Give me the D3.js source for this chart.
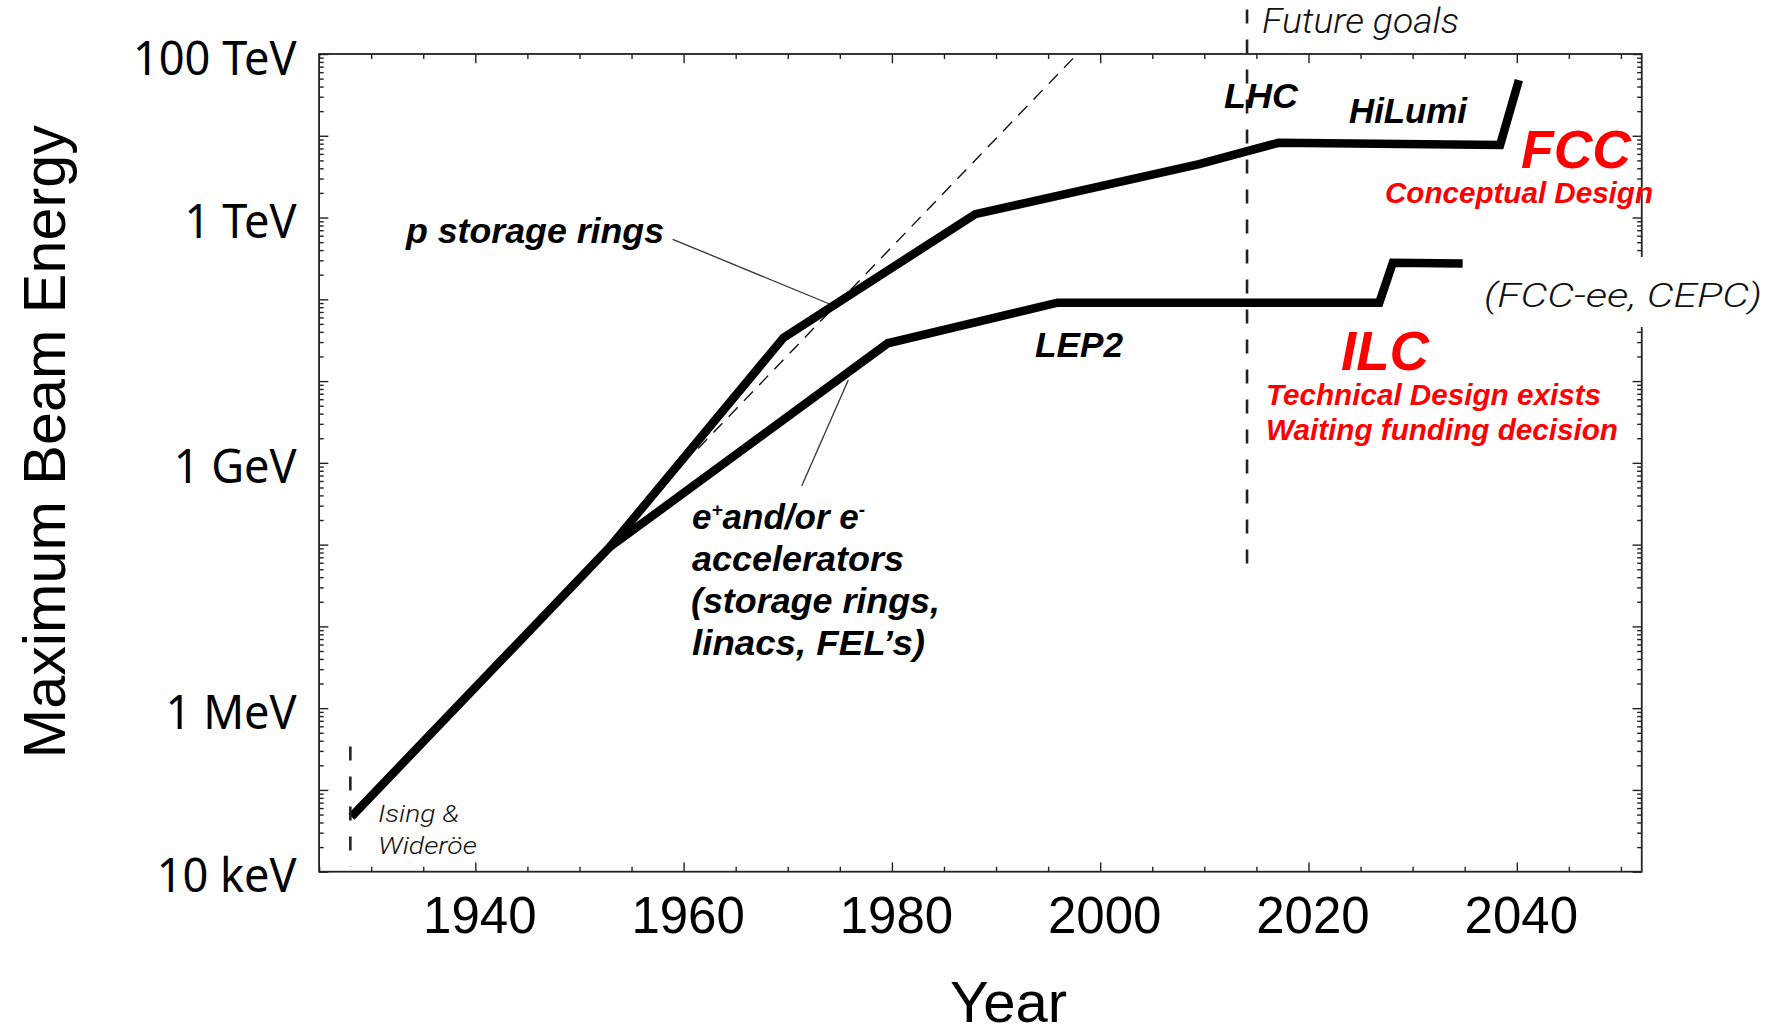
<!DOCTYPE html>
<html>
<head>
<meta charset="utf-8">
<script src="https://cdn.jsdelivr.net/npm/d3@7"></script>
<style>
  html, body { margin: 0; padding: 0; background: #fff; }
  svg { display: block; }
</style>
</head>
<body>
<svg id="chart" width="1788" height="1035"></svg>
<script>
// Maximum beam energy (eV) reached by accelerators, by year
const protonYears  = [1928.1, 1952.9, 1969.6, 1988.0, 2009.5, 2017.1, 2038.4, 2040.2];
const protonEnergy = [4.7e4, 9.3e7, 3.4e10, 1.1e12, 4.5e12, 8.2e12, 7.7e12, 4.8e13];

const leptonYears  = [1952.9, 1979.6, 1995.9, 2026.8, 2028.1, 2034.8];
const leptonEnergy = [9.3e7, 2.9e10, 9.1e10, 9.1e10, 2.8e11, 2.75e11];

// Exponential (Livingston) trend
const trendYears  = [1961.4, 1997.8];
const trendEnergy = [1.5e9, 1e14];

// Vertical markers: start of "future goals" and the first linac
const futureYear = 2014.1;
const futureSpan = [3.5e14, 5.4e7];
const isingYear  = 1928.0;
const isingSpan  = [3.4e5, 1.15e4];

// Axes
const xDomain     = [1925, 2052];
const xTickYears  = [1940, 1960, 1980, 2000, 2020, 2040];
const yDomain     = [1e4, 1e14];
const yTickValues = [1e4, 1e6, 1e9, 1e12, 1e14];
const yTickLabels = ["10 keV", "1 MeV", "1 GeV", "1 TeV", "100 TeV"];

// ---------------------------------------------------------------
const svg = d3.select("#chart");
const plot = { left: 319.1, top: 54, right: 1641.75, bottom: 871.7 };

const x = d3.scaleLinear().domain(xDomain).range([plot.left, plot.right]);
const y = d3.scaleLog().domain(yDomain).range([plot.bottom, plot.top]);

const axisColor = "#222";

// minor ticks
const xMinor = d3.range(xDomain[0], xDomain[1] + 1, 5).filter(v => !xTickYears.includes(v));
const decades = d3.range(Math.log10(yDomain[0]), Math.log10(yDomain[1]) + 1).map(p => Math.pow(10, p));
const yMinor = [];
decades.slice(0, -1).forEach(d => { for (let k = 2; k <= 9; k++) yMinor.push(d * k); });

function styleAxis(g) {
  g.select(".domain").remove();
  g.selectAll(".tick line").attr("stroke", axisColor).attr("stroke-width", 1.4);
}

const labelMap = new Map(yTickValues.map((v, i) => [v, yTickLabels[i]]));

// bottom axis with labels
svg.append("g").attr("transform", `translate(0,${plot.bottom})`)
  .call(d3.axisBottom(x).tickValues(xTickYears).tickSizeInner(-9.3).tickSizeOuter(0).tickFormat(d3.format("d")))
  .call(styleAxis)
  .call(g => g.selectAll("text")
    .attr("y", 61.6).attr("dy", 0).attr("dx", 4)
    .attr("fill", "#000")
    .style("font-family", "'Liberation Sans', Arial, sans-serif")
    .style("font-size", "51px"));
svg.append("g").attr("transform", `translate(0,${plot.bottom})`)
  .call(d3.axisBottom(x).tickValues(xMinor).tickSizeInner(-5).tickSizeOuter(0).tickFormat(""))
  .call(styleAxis);

// top axis (ticks only)
svg.append("g").attr("transform", `translate(0,${plot.top})`)
  .call(d3.axisTop(x).tickValues(xTickYears).tickSizeInner(-9.3).tickSizeOuter(0).tickFormat(""))
  .call(styleAxis);
svg.append("g").attr("transform", `translate(0,${plot.top})`)
  .call(d3.axisTop(x).tickValues(xMinor).tickSizeInner(-5).tickSizeOuter(0).tickFormat(""))
  .call(styleAxis);

// left axis with labels
svg.append("g").attr("transform", `translate(${plot.left},0)`)
  .call(d3.axisLeft(y).tickValues(decades).tickSizeInner(-9.2).tickSizeOuter(0)
        .tickFormat(d => labelMap.get(d) || ""))
  .call(styleAxis)
  .call(g => g.selectAll("text")
    .attr("x", -22.5).attr("dy", 20)
    .attr("fill", "#000")
    .style("font-family", "'Noto Sans', 'Open Sans', sans-serif")
    .style("font-size", "48px")
    .each(function () {
      const w = this.getComputedTextLength();
      if (w > 0) d3.select(this).attr("textLength", w * 0.94).attr("lengthAdjust", "spacingAndGlyphs");
    }));
svg.append("g").attr("transform", `translate(${plot.left},0)`)
  .call(d3.axisLeft(y).tickValues(yMinor).tickSizeInner(-4.6).tickSizeOuter(0).tickFormat(""))
  .call(styleAxis);

// right axis (ticks only)
svg.append("g").attr("transform", `translate(${plot.right},0)`)
  .call(d3.axisRight(y).tickValues(decades).tickSizeInner(-9.2).tickSizeOuter(0).tickFormat(""))
  .call(styleAxis);
svg.append("g").attr("transform", `translate(${plot.right},0)`)
  .call(d3.axisRight(y).tickValues(yMinor).tickSizeInner(-4.6).tickSizeOuter(0).tickFormat(""))
  .call(styleAxis);

// frame
svg.append("rect")
  .attr("x", plot.left).attr("y", plot.top)
  .attr("width", plot.right - plot.left).attr("height", plot.bottom - plot.top)
  .attr("fill", "none").attr("stroke", axisColor).attr("stroke-width", 1.8);

// axis titles
svg.append("text")
  .attr("transform", "translate(65,441.7) rotate(-90)")
  .attr("text-anchor", "middle")
  .attr("textLength", 633).attr("lengthAdjust", "spacingAndGlyphs")
  .style("font-family", "'Liberation Sans', Arial, sans-serif")
  .style("font-size", "60px")
  .text("Maximum Beam Energy");

svg.append("text")
  .attr("x", 1008.5).attr("y", 1022)
  .attr("text-anchor", "middle")
  .style("font-family", "'Liberation Sans', Arial, sans-serif")
  .style("font-size", "58px")
  .text("Year");

// ---------------------------------------------------------------
// curves
const line = d3.line().x(d => x(d[0])).y(d => y(d[1]));

svg.append("path")
  .datum(d3.zip(trendYears, trendEnergy))
  .attr("d", line)
  .attr("fill", "none").attr("stroke", "#111").attr("stroke-width", 1.4)
  .attr("stroke-dasharray", "13,9");

[[protonYears, protonEnergy], [leptonYears, leptonEnergy]].forEach(([yr, en]) => {
  svg.append("path")
    .datum(d3.zip(yr, en))
    .attr("d", line)
    .attr("fill", "none").attr("stroke", "#000")
    .attr("stroke-width", 8.5)
    .attr("stroke-linejoin", "miter").attr("stroke-miterlimit", 10)
    .attr("stroke-linecap", "butt");
});

// vertical markers
[[futureYear, futureSpan], [isingYear, isingSpan]].forEach(([yr, span]) => {
  svg.append("line")
    .attr("x1", x(yr)).attr("x2", x(yr))
    .attr("y1", y(span[0])).attr("y2", y(span[1]))
    .attr("stroke", "#222").attr("stroke-width", 2.6)
    .attr("stroke-dasharray", "14,16");
});

// leader lines from labels to curves
const leaders = [
  [[672.7, 239.3], [829.6, 304]],
  [[848.3, 380], [801.7, 486]]
];
leaders.forEach(([a, b]) => {
  svg.append("line")
    .attr("x1", a[0]).attr("y1", a[1]).attr("x2", b[0]).attr("y2", b[1])
    .attr("stroke", "#333").attr("stroke-width", 1.3);
});

// white box behind the circular-collider note
svg.append("rect")
  .attr("x", 1466).attr("y", 257).attr("width", 310).attr("height", 70)
  .attr("fill", "#fff");

// ---------------------------------------------------------------
// annotations
const boldItalic = "'Liberation Sans', Arial, Helvetica, sans-serif";
const lightItalic = "Roboto, 'Open Sans', 'Liberation Sans', sans-serif";

const notes = [
  { t: "p storage rings", x: 406, y: 242.5, s: 35, w: 258, c: "#000", f: boldItalic, wt: 700 },
  { t: "LHC", x: 1224, y: 108.3, s: 35, w: 74, c: "#000", f: boldItalic, wt: 700 },
  { t: "HiLumi", x: 1349, y: 123.3, s: 35, w: 118, c: "#000", f: boldItalic, wt: 700 },
  { t: "LEP2", x: 1035, y: 356.7, s: 35, w: 88, c: "#000", f: boldItalic, wt: 700 },
  { t: "accelerators", x: 692, y: 570.5, s: 35, w: 212, c: "#000", f: boldItalic, wt: 700 },
  { t: "(storage rings,", x: 691, y: 612.5, s: 35, w: 249, c: "#000", f: boldItalic, wt: 700 },
  { t: "linacs, FEL\u2019s)", x: 692, y: 655, s: 35, w: 233, c: "#000", f: boldItalic, wt: 700 },
  { t: "FCC", x: 1521, y: 168.3, s: 53, w: 110, c: "#ff0000", f: boldItalic, wt: 700 },
  { t: "Conceptual Design", x: 1385, y: 203.3, s: 29, w: 268, c: "#ff0000", f: boldItalic, wt: 700 },
  { t: "ILC", x: 1341, y: 370, s: 55, w: 88, c: "#ff0000", f: boldItalic, wt: 700 },
  { t: "Technical Design exists", x: 1266, y: 405, s: 29, w: 335, c: "#ff0000", f: boldItalic, wt: 700 },
  { t: "Waiting funding decision", x: 1266, y: 440, s: 29, w: 352, c: "#ff0000", f: boldItalic, wt: 700 },
  { t: "Future goals", x: 1262, y: 33.3, s: 35, w: 197, c: "#111", f: lightItalic, wt: 300 },
  { t: "(FCC-ee, CEPC)", x: 1484, y: 306.7, s: 34, w: 278, c: "#111", f: lightItalic, wt: 300 },
  { t: "Ising &", x: 378, y: 822, s: 24, w: 81, c: "#111", f: lightItalic, wt: 300 },
  { t: "Wider\u00f6e", x: 378, y: 853.5, s: 24, w: 99, c: "#111", f: lightItalic, wt: 300 }
];

svg.append("g").selectAll("text")
  .data(notes)
  .join("text")
  .attr("x", d => d.x).attr("y", d => d.y)
  .attr("fill", d => d.c)
  .attr("textLength", d => d.w).attr("lengthAdjust", "spacingAndGlyphs")
  .style("font-family", d => d.f)
  .style("font-size", d => d.s + "px")
  .style("font-weight", d => d.wt)
  .style("font-style", "italic")
  .text(d => d.t);

// first line of the lepton label, with charge superscripts
const eLabel = svg.append("text")
  .attr("x", 692).attr("y", 529)
  .attr("fill", "#000")
  .style("font-family", boldItalic)
  .style("font-size", "35px")
  .style("font-weight", 700)
  .style("font-style", "italic");
eLabel.append("tspan").text("e");
eLabel.append("tspan").attr("dy", -13).style("font-size", "19px").text("+");
eLabel.append("tspan").attr("dy", 13).text("and/or e");
eLabel.append("tspan").attr("dy", -13).style("font-size", "19px").text("-");
</script>
</body>
</html>
